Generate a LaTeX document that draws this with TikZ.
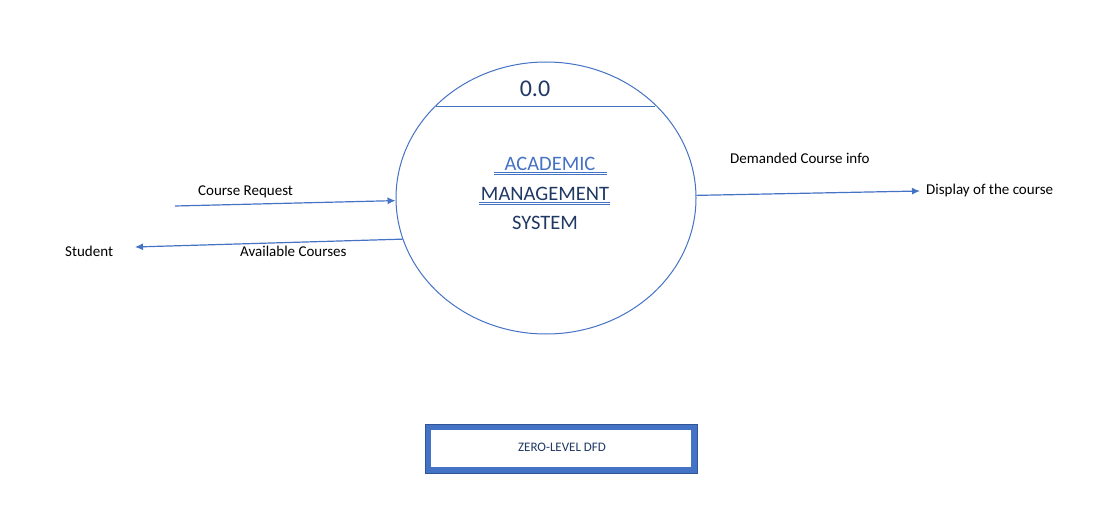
\documentclass[tikz,border=0pt]{standalone}
\usepackage{fontspec}
\setmainfont{Carlito}
\usepackage{tikz}
\usetikzlibrary{shapes.geometric}
\usetikzlibrary{positioning}
\usetikzlibrary{arrows.meta}
\definecolor{dfdblue}{HTML}{4472C4}
\definecolor{dfdnavy}{HTML}{1F3864}
\definecolor{dfdedge}{HTML}{2F5597}

\begin{document}
\begin{tikzpicture}[
x=1pt, y=-1pt,
font=\fontsize{15}{18}\selectfont,
>={Latex[length=8pt,width=7pt]},   %Pfeilspitzen
flow/.style={->, dfdblue, line width=1.2pt},
flowtext/.style={anchor=base west, inner sep=0pt},
systext/.style={anchor=base, inner sep=0pt, font=\fontsize{20.5}{24}\selectfont}
]
\useasboundingbox (0,0) rectangle (1109,511);

% Prozess 0.0
\node[ellipse, draw=dfdblue, line width=1pt, minimum width=300, minimum height=272] (amsys) at (546,198) {};
\draw[dfdblue, line width=1pt] (436,106) -- (655,106);
\node[systext, text=dfdnavy, font=\fontsize{24}{28}\selectfont] (nr) at (535,96) {0.0};
\node[systext, text=dfdblue] (acad) at (550,170) {ACADEMIC};
\node[systext, text=dfdnavy] (mgmt) at (545,200) {MANAGEMENT};
\node[systext, text=dfdnavy] (sys) at (545,229) {SYSTEM};
%Doppelte Unterstreichung
\draw[dfdblue, line width=0.8pt] (494,172) -- (607,172) (494,174.5) -- (607,174.5);
\draw[dfdblue, line width=0.8pt] (479,202) -- (610,202) (479,204.5) -- (610,204.5);

% Entitaeten
\node[flowtext] (student) at (65,256) {Student};
\node[flowtext] (display) at (926,194) {Display of the course};

% Datenfluesse
\coordinate (crstart) at (175,206);
\coordinate (acend) at (135,247);
\coordinate (dcend) at (920,191);
\draw[flow] (crstart) -- (amsys.181.2);
\draw[flow] (amsys.196) -- (acend);
\draw[flow] (amsys.1) -- (dcend);
\node[flowtext] (crtext) at (198,195) {Course Request};
\node[flowtext] (actext) at (240,256) {Available Courses};
\node[flowtext] (dctext) at (730,163) {Demanded Course info};

% Titelkasten
\node[draw=dfdblue, line width=6pt, minimum width=266, minimum height=43] (level) at (561,448.5) {};
\node[anchor=base, inner sep=0pt, text=dfdnavy, font=\fontsize{13}{15}\selectfont] (leveltext) at (562,451) {ZERO-LEVEL DFD};
\draw[dfdedge, line width=0.6pt] (level.north west) rectangle (level.south east);
\end{tikzpicture}
\end{document}
